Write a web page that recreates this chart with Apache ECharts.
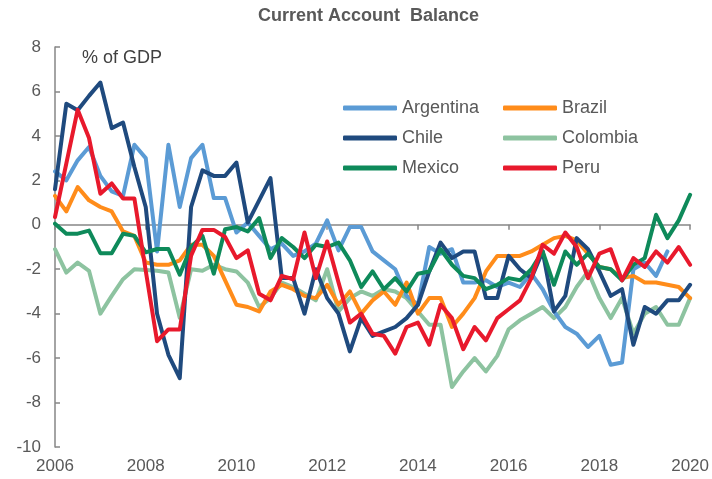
<!DOCTYPE html>
<html>
<head>
<meta charset="utf-8">
<script src="https://cdn.jsdelivr.net/npm/echarts@6/dist/echarts.min.js"></script>
<style>
html, body { margin: 0; padding: 0; background: #fff; }
#chart { width: 712px; height: 479px; }
</style>
</head>
<body>
<div id="chart"></div>
<script>
// 季度数据 2006Q1 - 2020Q1
var years = [2006, 2007, 2008, 2009, 2010, 2011, 2012, 2013, 2014, 2015, 2016, 2017, 2018, 2019, 2020];
var quarters = [];
for (var i = 0; i < years.length; i++) {
	for (var q = 1; q <= 4; q++) {
		if (years[i] == 2020 && q > 1) break;
		quarters.push(years[i] + 'Q' + q);
	}
}

var argentina = [2.4, 2.0, 2.9, 3.5, 2.2, 1.5, 1.3, 3.6, 3.0, -1.2, 3.6, 0.8, 3.0, 3.6, 1.2,
	1.2, -0.35, 0.1, -0.5, -1.1, -0.85, -1.4, -1.2, -0.85, 0.2, -1.15, -0.1,
	-0.1, -1.2, -1.6, -2.0, -3.2, -3.6, -1.0, -1.3, -1.1, -2.6, -2.6, -2.5, -2.8, -2.6, -2.8,
	-2.2, -2.9, -3.9, -4.6, -4.9, -5.5, -5.0, -6.3, -6.2, -2.0, -1.7, -2.3, -1.2, null, null];
var brazil = [1.3, 0.6, 1.7, 1.1, 0.8, 0.6, -0.3, -0.5, -1.7, -1.8, -1.8, -1.6, -0.9, -0.9, -1.4,
	-2.5, -3.6, -3.7, -3.9, -3.0, -2.7, -2.9, -3.2, -3.3, -2.7, -3.6, -3.0,
	-4.0, -3.4, -3.0, -3.6, -2.6, -4.0, -3.3, -3.3, -4.6, -4.0, -3.3, -2.1, -1.4, -1.4, -1.4,
	-1.2, -0.9, -0.6, -0.5, -0.7, -1.3, -1.9, -2.0, -2.4, -2.3, -2.6, -2.6, -2.7, -2.8, -3.3];
var chile = [1.6, 5.45, 5.15, 5.8, 6.4, 4.35, 4.6, 2.6, 0.8, -4.0, -5.85, -6.9, 0.8, 2.45, 2.2,
	2.2, 2.8, 0.1, 1.1, 2.1, -2.4, -2.4, -4.0, -2.0, -3.3, -4.0, -5.7,
	-4.2, -5.0, -4.8, -4.6, -4.2, -3.6, -2.1, -0.8, -1.5, -1.2, -1.2, -3.3, -3.3, -1.4, -2.0,
	-2.4, -1.2, -3.9, -3.2, -0.6, -1.1, -2.1, -3.2, -2.9, -5.4, -3.7, -4.0, -3.4, -3.4, -2.7];
var colombia = [-1.1, -2.15, -1.7, -2.07, -4.0, -3.2, -2.45, -2.0, -2.04, -2.07, -2.15, -4.18, -2.0, -2.07, -1.8,
	-2.0, -2.1, -2.6, -3.7, -3.3, -2.6, -2.8, -3.1, -3.4, -2.0, -3.9, -3.3,
	-3.0, -3.2, -2.9, -3.0, -3.3, -3.9, -4.5, -4.5, -7.3, -6.6, -6.0, -6.6, -5.9, -4.7, -4.3,
	-4.0, -3.7, -4.2, -3.7, -2.8, -2.1, -3.3, -4.2, -3.3, -4.9, -4.0, -3.7, -4.5, -4.5, -3.3];
var mexico = [0.05, -0.4, -0.4, -0.26, -1.28, -1.28, -0.4, -0.5, -1.24, -1.09, -1.09, -2.25, -1.0, -0.5, -2.2,
	-0.2, -0.1, -0.3, 0.3, -1.5, -0.6, -1.0, -1.5, -0.9, -1.0, -0.8, -1.6,
	-2.8, -2.1, -2.9, -2.4, -3.0, -2.2, -2.1, -1.1, -1.8, -2.3, -2.4, -2.9, -2.7, -2.4, -2.5,
	-2.0, -1.2, -2.7, -1.2, -1.8, -1.3, -1.9, -2.0, -2.5, -1.8, -1.5, 0.45, -0.6, 0.2, 1.35];
var peru = [0.35, 2.76, 5.18, 3.9, 1.4, 1.86, 1.18, 1.18, -2.07, -5.24, -4.71, -4.71, -1.39, -0.23, -0.23,
	-0.55, -1.5, -1.15, -3.1, -3.4, -2.3, -2.45, -0.35, -2.4, -0.75, -2.6, -4.4,
	-4.0, -4.9, -5.0, -5.8, -4.6, -4.4, -5.4, -3.6, -4.2, -5.6, -4.6, -5.2, -4.2, -3.8, -3.4,
	-2.4, -0.9, -1.3, -0.35, -1.0, -2.4, -1.3, -1.1, -2.5, -1.5, -1.9, -1.2, -1.7, -1.0, -1.8];

var fontName = '"Liberation Sans", Arial, sans-serif';
var textColor = '#595959';
var axisColor = '#868686';

function yearTick(index) {
	return index % 8 == 0;
}

function makeLine(name, data, color) {
	return {
		name : name,
		type : 'line',
		data : data,
		symbol : 'none',
		smooth : false,
		connectNulls : false,
		lineStyle : {
			color : color,
			width : 4,
			cap : 'round',
			join : 'round'
		},
		itemStyle : {
			color : color
		}
	};
}

var legendText = {
	color : textColor,
	fontSize : 18,
	fontFamily : fontName
};

var obj = echarts.init(document.getElementById('chart'));
var option = {
	animation : false,
	title : {
		text : 'Current Account  Balance',
		left : 258,
		top : 7,
		padding : 0,
		textStyle : {
			color : textColor,
			fontSize : 18,
			fontWeight : 'bold',
			fontFamily : fontName
		}
	},
	graphic : [
		{
			type : 'text',
			left : 82,
			top : 49,
			style : {
				text : '% of GDP',
				fill : '#404040',
				fontSize : 18,
				fontFamily : fontName
			}
		}
	],
	legend : [
		{
			orient : 'vertical',
			left : 343,
			top : 99,
			padding : 0,
			itemWidth : 54,
			itemHeight : 5,
			itemGap : 12,
			icon : 'roundRect',
			textStyle : legendText,
			data : ['Argentina', 'Chile', 'Mexico']
		}, {
			orient : 'vertical',
			left : 503,
			top : 99,
			padding : 0,
			itemWidth : 54,
			itemHeight : 5,
			itemGap : 12,
			icon : 'roundRect',
			textStyle : legendText,
			data : ['Brazil', 'Colombia', 'Peru']
		}
	],
	grid : {
		left : 55,
		right : 19,
		top : 47,
		bottom : 32,
		containLabel : false
	},
	xAxis : [
		{
			type : 'category',
			data : quarters,
			boundaryGap : false,
			axisLine : {
				onZero : true,
				lineStyle : {
					color : axisColor,
					width : 1.5
				}
			},
			axisTick : {
				show : true,
				inside : false,
				length : 5,
				interval : function(index) { return yearTick(index); },
				lineStyle : {
					color : axisColor,
					width : 1.5
				}
			},
			axisLabel : {
				show : false
			},
			splitLine : {
				show : false
			}
		}, {
			type : 'category',
			data : quarters,
			boundaryGap : false,
			position : 'bottom',
			axisLine : {
				show : false,
				onZero : false
			},
			axisTick : {
				show : false
			},
			axisLabel : {
				show : true,
				margin : 11,
				interval : function(index) { return yearTick(index); },
				formatter : function(value) { return value.substring(0, 4); },
				color : textColor,
				fontSize : 17,
				fontFamily : fontName
			},
			splitLine : {
				show : false
			}
		}
	],
	yAxis : {
		type : 'value',
		min : -10,
		max : 8,
		interval : 2,
		axisLine : {
			show : true,
			onZero : false,
			lineStyle : {
				color : axisColor,
				width : 1.5
			}
		},
		axisTick : {
			show : true,
			inside : true,
			length : 5,
			lineStyle : {
				color : axisColor,
				width : 1.5
			}
		},
		axisLabel : {
			margin : 14,
			color : textColor,
			fontSize : 17,
			fontFamily : fontName
		},
		splitLine : {
			show : false
		}
	},
	series : [
		makeLine('Colombia', colombia, '#8DC3A0'),
		makeLine('Argentina', argentina, '#5B9BD5'),
		makeLine('Brazil', brazil, '#FF8C1A'),
		makeLine('Chile', chile, '#1F4A7E'),
		makeLine('Mexico', mexico, '#0E8A5A'),
		makeLine('Peru', peru, '#E8192C')
	]
};
obj.setOption(option);
</script>
</body>
</html>
